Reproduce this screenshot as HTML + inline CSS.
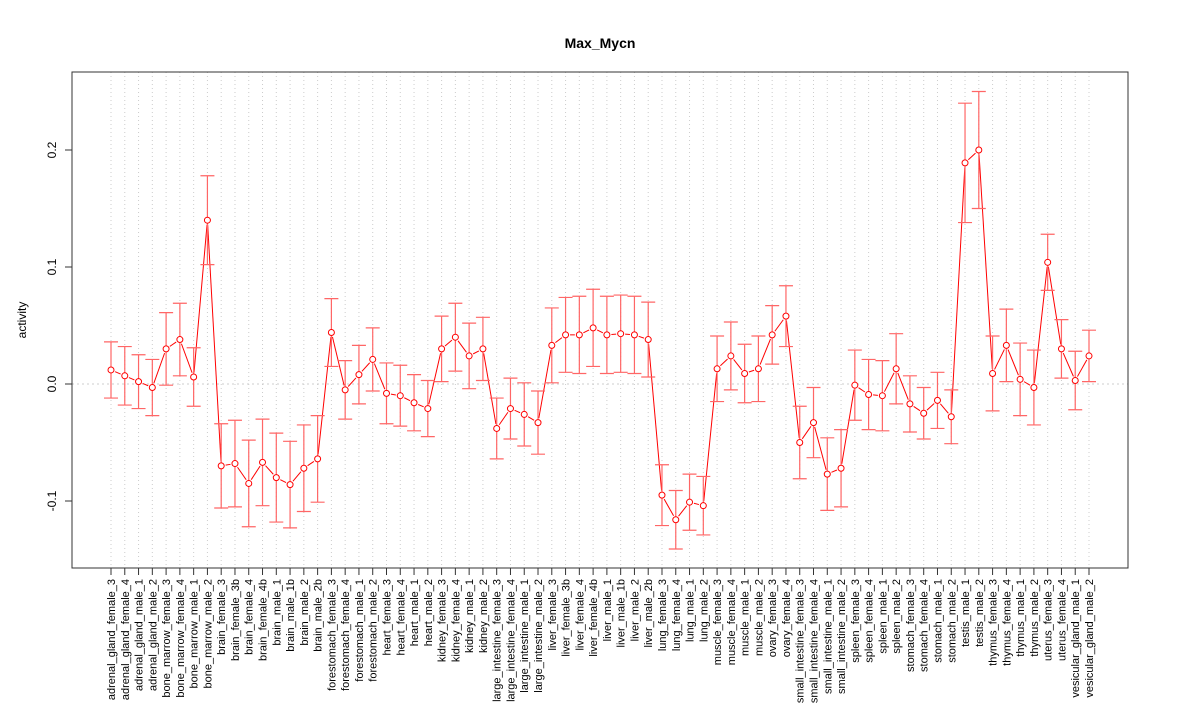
<!DOCTYPE html>
<html><head><meta charset="utf-8"><style>
body{margin:0;background:#fff}
svg text{font-family:"Liberation Sans",Arial,sans-serif}
</style></head><body>
<svg id="chart" width="1200" height="720" xmlns="http://www.w3.org/2000/svg">
<rect x="0" y="0" width="1200" height="720" fill="#fff"/>
<text x="600" y="48" text-anchor="middle" font-size="14" font-weight="bold">Max_Mycn</text>
<text x="0" y="0" transform="translate(26,320) rotate(-90)" text-anchor="middle" font-size="12">activity</text>
<g id="grid"></g><g id="marks"></g><g id="axes"></g>
<rect x="72" y="72" width="1056" height="496" fill="none" stroke="#333" stroke-width="1"/>
</svg>
<script>
const categories=["adrenal_gland_female_3","adrenal_gland_female_4","adrenal_gland_male_1","adrenal_gland_male_2","bone_marrow_female_3","bone_marrow_female_4","bone_marrow_male_1","bone_marrow_male_2","brain_female_3","brain_female_3b","brain_female_4","brain_female_4b","brain_male_1","brain_male_1b","brain_male_2","brain_male_2b","forestomach_female_3","forestomach_female_4","forestomach_male_1","forestomach_male_2","heart_female_3","heart_female_4","heart_male_1","heart_male_2","kidney_female_3","kidney_female_4","kidney_male_1","kidney_male_2","large_intestine_female_3","large_intestine_female_4","large_intestine_male_1","large_intestine_male_2","liver_female_3","liver_female_3b","liver_female_4","liver_female_4b","liver_male_1","liver_male_1b","liver_male_2","liver_male_2b","lung_female_3","lung_female_4","lung_male_1","lung_male_2","muscle_female_3","muscle_female_4","muscle_male_1","muscle_male_2","ovary_female_3","ovary_female_4","small_intestine_female_3","small_intestine_female_4","small_intestine_male_1","small_intestine_male_2","spleen_female_3","spleen_female_4","spleen_male_1","spleen_male_2","stomach_female_3","stomach_female_4","stomach_male_1","stomach_male_2","testis_male_1","testis_male_2","thymus_female_3","thymus_female_4","thymus_male_1","thymus_male_2","uterus_female_3","uterus_female_4","vesicular_gland_male_1","vesicular_gland_male_2"];
const activity=[.012,.007,.002,-.003,.030,.038,.006,.140,-.070,-.068,-.085,-.067,-.080,-.086,-.072,-.064,.044,-.005,.008,.021,-.008,-.010,-.016,-.021,.030,.040,.024,.030,-.038,-.021,-.026,-.033,.033,.042,.042,.048,.042,.043,.042,.038,-.095,-.116,-.101,-.104,.013,.024,.009,.013,.042,.058,-.050,-.033,-.077,-.072,-.001,-.009,-.010,.013,-.017,-.025,-.014,-.028,.189,.200,.009,.033,.004,-.003,.104,.030,.003,.024];
const errors=[.024,.025,.023,.024,.031,.031,.025,.038,.036,.037,.037,.037,.038,.037,.037,.037,.029,.025,.025,.027,.026,.026,.024,.024,.028,.029,.028,.027,.026,.026,.027,.027,.032,.032,.033,.033,.033,.033,.033,.032,.026,.025,.024,.025,.028,.029,.025,.028,.025,.026,.031,.030,.031,.033,.030,.030,.030,.030,.024,.022,.024,.023,.051,.050,.032,.031,.031,.032,.024,.025,.025,.022];
const yTicks=[-0.1,0,0.1,0.2];
const yTickLabels=["-0.1","0.0","0.1","0.2"];

const NS="http://www.w3.org/2000/svg";
const xs=i=>111+i*(1089-111)/(categories.length-1);
const ys=v=>384-v*1170;
function mk(tag,attrs,parent){const e=document.createElementNS(NS,tag);for(const k in attrs)e.setAttribute(k,attrs[k]);parent.appendChild(e);return e;}
const grid=document.getElementById('grid'),marks=document.getElementById('marks'),axes=document.getElementById('axes');
categories.forEach((c,i)=>{
  const g=mk('line',{x1:xs(i),x2:xs(i),y1:72,y2:568,stroke:'#ccc','stroke-dasharray':'1,3'},grid);
  
  
  const t=mk('line',{x1:xs(i),x2:xs(i),y1:568,y2:575,stroke:'#333'},axes);
  
  
  const l=mk('text',{transform:`translate(${xs(i)+4},579) rotate(-90)`,'text-anchor':'end','font-size':'11'},axes);
  l.textContent=c;
  
  
});
const z=mk('line',{x1:72,x2:1128,y1:ys(0),y2:ys(0),stroke:'#ccc','stroke-dasharray':'2,3'},grid);


yTicks.forEach((v,i)=>{
  const t=mk('line',{x1:65,x2:72,y1:ys(v),y2:ys(v),stroke:'#333'},axes);
  
  
  const l=mk('text',{transform:`translate(56,${ys(v)}) rotate(-90)`,'text-anchor':'middle','font-size':'12'},axes);
  l.textContent=yTickLabels[i];
  
  
});
// connecting segments (type "b": gaps near points)
for(let i=0;i<activity.length-1;i++){
  const x1=xs(i),y1=ys(activity[i]),x2=xs(i+1),y2=ys(activity[i+1]);
  const d=Math.hypot(x2-x1,y2-y1);if(d<9)continue;
  const ux=(x2-x1)/d,uy=(y2-y1)/d;
  const s=mk('line',{x1:x1+ux*4.5,y1:y1+uy*4.5,x2:x2-ux*4.5,y2:y2-uy*4.5,stroke:'#f00','stroke-width':1},marks);
  
  
}
activity.forEach((v,i)=>{
  const x=xs(i),e=errors[i];
  const eb=mk('path',{d:`M${x},${ys(v+e)}V${ys(v-e)}M${x-7},${ys(v+e)}H${x+7}M${x-7},${ys(v-e)}H${x+7}`,stroke:'#f66','stroke-width':1.2,fill:'none'},marks);
  
  
  const p=mk('circle',{cx:x,cy:ys(v),r:3,fill:'#fff',stroke:'#f00','stroke-width':1},marks);
  
  
});
</script>
</body></html>
